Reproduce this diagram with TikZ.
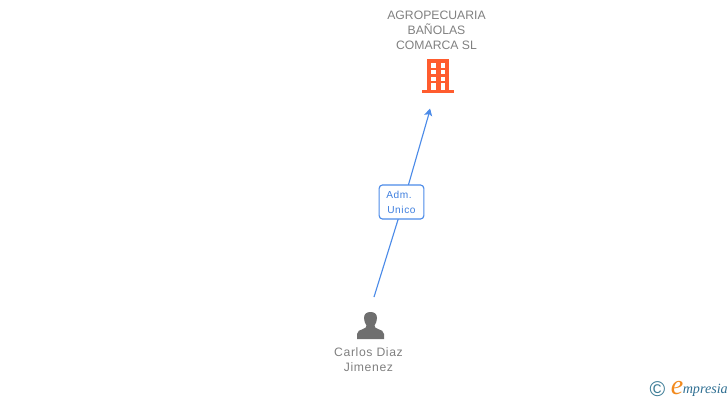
\documentclass[tikz,border=0pt]{standalone}
\usepackage{fontspec}
\setmainfont{Liberation Sans}
\newfontfamily\logofont{Liberation Serif}
\definecolor{txtgray}{HTML}{808080}
\definecolor{linkblue}{HTML}{4C8BE8}
\definecolor{labelblue}{HTML}{3F7FDF}
\definecolor{bldorange}{HTML}{FF5C2E}
\definecolor{persongray}{HTML}{6F6F6F}
\definecolor{logoteal}{HTML}{3C7C96}
\definecolor{logoorange}{HTML}{F28A1E}
\definecolor{logoblue}{HTML}{2F6F92}
\tikzset{
  nametext/.style={text=txtgray,font=\fontsize{9.15pt}{11.2pt}\selectfont,align=center,inner sep=0pt},
  edgelabel/.style={draw=linkblue,line width=0.85pt,rounded corners=2.5pt,fill=white,minimum width=33.5pt,minimum height=25.5pt,inner sep=0pt},
  labeltext/.style={text=labelblue,inner sep=0pt,anchor=west,font=\fontsize{7.6pt}{9pt}\selectfont\addfontfeatures{LetterSpace=6}},
  link/.style={draw=linkblue,line width=0.85pt},
  tip/.style={fill=linkblue,draw=none},
  win/.style={fill=white,draw=none}
}
\begin{document}
\begin{tikzpicture}[x=0.75pt,y=-0.75pt]
\useasboundingbox (0,0) rectangle (728,400);
% building icon
\fill[bldorange] (427,59) rectangle (449,90);
\fill[bldorange] (422,90) rectangle (454,93);
\foreach \yy/\hh in {63/67.5,70/74,76.5/80.5}{
  \fill[win] (431,\yy) rectangle (435.5,\hh);
  \fill[win] (440.5,\yy) rectangle (445,\hh);
}
\fill[win] (431,83) rectangle (435.5,90);
\fill[win] (440.5,83) rectangle (445,90);
% person icon
\fill[persongray] (357,339) -- (357,334) .. controls (357,331) and (360,330) .. (363,329)
  .. controls (365.5,328.2) and (366.5,327) .. (366.5,325.5)
  .. controls (365,323.5) and (364,320.5) .. (364,318)
  .. controls (364,314) and (366.5,312) .. (370.5,312)
  .. controls (374.5,312) and (377,314) .. (377,318)
  .. controls (377,320.5) and (376,323.5) .. (374.5,325.5)
  .. controls (374.5,327) and (375.5,328.2) .. (378,329)
  .. controls (381,330) and (384,331) .. (384,334) -- (384,339) -- cycle;
% anchors and connector
\coordinate (src) at (374,297);
\coordinate (mid) at (403.5,202);
\coordinate (dst) at (430,110);
\draw[link] (src) -- (mid) -- (dst);
\fill[tip] (430,108.5) -- (432.2,116.5) -- (429.2,114.2) -- (424.2,114.8) -- cycle;
\node[edgelabel] (role) at (401.5,202) {};
\node[labeltext] (roleA) at (386,195) {Adm.};
\node[labeltext] (roleB) at (387,210) {Unico};
% texts
\node[nametext] (company) at (436.5,30) {AGROPECUARIA\\BAÑOLAS\\COMARCA SL};
\node[nametext,font=\fontsize{9.15pt}{11.2pt}\selectfont\addfontfeatures{LetterSpace=5}] (person) at (368.5,360) {Carlos Diaz\\Jimenez};
% logo
\node[inner sep=0pt,text=logoteal,font=\fontsize{16pt}{16pt}\selectfont] (copy) at (657.5,389) {©};
\node[inner sep=0pt,text=logoorange,font=\logofont\itshape\fontsize{21pt}{21pt}\selectfont] (elogo) at (677,388) {e};
\node[inner sep=0pt,anchor=west,text=logoblue,font=\logofont\itshape\fontsize{10.6pt}{10pt}\selectfont] (mlogo) at (682.5,390) {mpresia};
\end{tikzpicture}
\end{document}
